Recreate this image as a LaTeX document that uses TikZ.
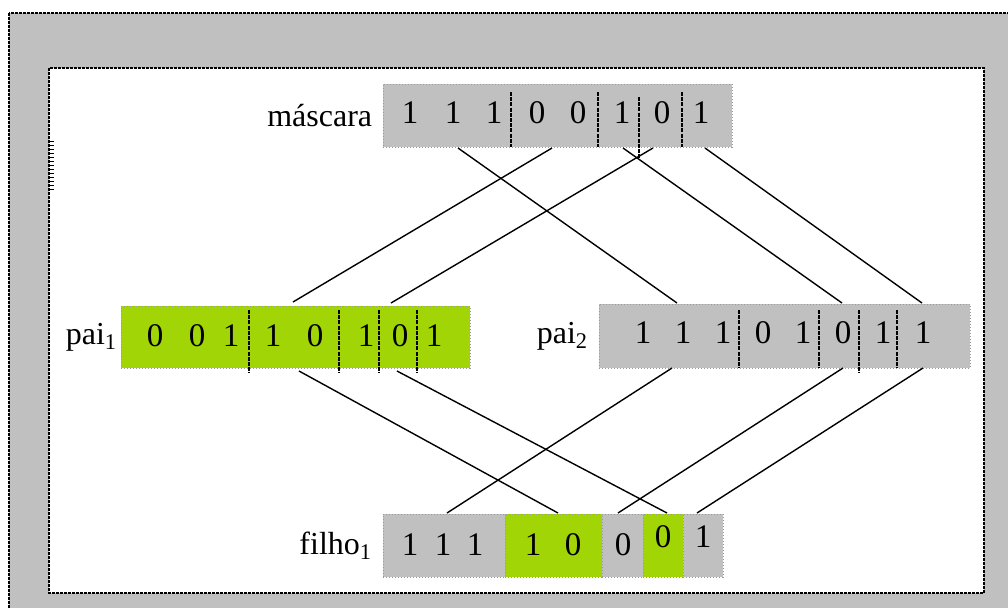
\documentclass[tikz,border=0pt]{standalone}
\usepackage{fontspec}
\setmainfont{Liberation Serif}
\usepackage{tikz}
\usetikzlibrary{positioning}

\definecolor{cinza}{RGB}{192,192,192}
\definecolor{verde}{RGB}{164,218,0}

\begin{document}
\begin{tikzpicture}[
		x=0.5pt, y=-0.5pt,
		font=\fontsize{16}{19}\selectfont,
		frame/.style={draw=black, line width=1pt, dash pattern=on 1.5pt off 0.5pt},
		bitbox/.style={rectangle, draw=gray!80, densely dotted, line width=0.5pt, inner sep=0pt},
		gbox/.style={bitbox, fill=cinza},
		vbox/.style={bitbox, fill=verde!95!gray},
		digit/.style={inner sep=0pt, anchor=base, font=\fontsize{16.5}{19}\selectfont},
		tag/.style={inner sep=0pt},
		cut/.style={dash pattern=on 2pt off 0.6pt, line width=0.7pt},
		wire/.style={line width=0.7pt}
	]
  \useasboundingbox (0,0) rectangle (1008,607);
  \clip (0,0) rectangle (1008,607);
  % moldura
  \filldraw[fill=cinza, frame] (8.5,12.5) rectangle (1040,640);
  \filldraw[fill=white, frame] (49,68) rectangle (984,593);
  \draw[line width=2pt, dash pattern=on 0.5pt off 1.5pt] (52,141) -- (52,193);

  % mascara
  \node (mask) [gbox, minimum width=174.5pt, minimum height=31.5pt] at (557.5,115.5) {};
  \node (mask_lbl) [tag, left=5pt of mask] {máscara};
  \foreach \x/\d [count=\i] in {410/1,453/1,494/1,537/0,578/0,622/1,662/0,701/1}
    \node (m\i) [digit] at (\x,123) {\d};
  \draw[cut] (511,92) -- (511,147) (598,92) -- (598,147) (639,97) -- (639,158) (682,92) -- (682,147);

  % pais
  \node (pai1) [vbox, minimum width=174.5pt, minimum height=31pt] at (295.5,337) {};
  \node (pai1_lbl) [tag, left=1.5pt of pai1] {pai\textsubscript{1}};
  \foreach \x/\d [count=\i] in {155/0,197/0,231/1,273/1,315/0,366/1,400/0,434/1}
    \node (a\i) [digit] at (\x,346) {\d};
  \draw[cut] (249,310) -- (249,373) (339,310) -- (339,373) (379,310) -- (379,373) (417,310) -- (417,373);

  \node (pai2) [gbox, minimum width=185.5pt, minimum height=32pt] at (784.5,336) {};
  \node (pai2_lbl) [tag, left=5pt of pai2] {pai\textsubscript{2}};
  \foreach \x/\d [count=\i] in {643/1,683/1,723/1,763/0,803/1,843/0,883/1,923/1}
    \node (b\i) [digit] at (\x,343) {\d};
  \draw[cut] (739,310) -- (739,368) (819,310) -- (819,368) (859,310) -- (859,373) (897,310) -- (897,368);

  % filho
  \node (f_a) [gbox, minimum width=61pt, minimum height=31.5pt] at (444,545.5) {};
  \node (f_b) [vbox, minimum width=48.5pt, minimum height=31.5pt] at (553.5,545.5) {};
  \node (f_c) [gbox, minimum width=20.5pt, minimum height=31.5pt] at (622.5,545.5) {};
  \node (f_d) [vbox, minimum width=20pt, minimum height=31.5pt] at (663,545.5) {};
  \node (f_e) [gbox, minimum width=20pt, minimum height=31.5pt] at (703,545.5) {};
  \node (filho_lbl) [tag, left=5pt of f_a] {filho\textsubscript{1}};
  \foreach \x/\y/\d [count=\i] in {410/555/1,443/555/1,475/555/1,533/555/1,573/555/0,623/555/0,663/547/0,703/547/1}
    \node (c\i) [digit] at (\x,\y) {\d};

  % pontos de ligacao
  \coordinate (mask_a) at (458,148);
  \coordinate (mask_b) at (552,148);
  \coordinate (mask_c) at (653,148);
  \coordinate (mask_d) at (623,148);
  \coordinate (mask_e) at (705,148);
  \coordinate (pai1_in_b) at (293,302);
  \coordinate (pai1_in_c) at (391,303);
  \coordinate (pai2_in_a) at (677,303);
  \coordinate (pai2_in_d) at (842,303);
  \coordinate (pai2_in_e) at (922,303);
  \coordinate (pai1_out_a) at (299,371);
  \coordinate (pai1_out_b) at (397,371);
  \coordinate (pai2_out_a) at (672,368);
  \coordinate (pai2_out_b) at (843,368);
  \coordinate (pai2_out_c) at (923,368);
  \coordinate (filho_in_a) at (447,513);
  \coordinate (filho_in_b) at (558,513);
  \coordinate (filho_in_c) at (618,513);
  \coordinate (filho_in_d) at (667,513);
  \coordinate (filho_in_e) at (697,513);

  \draw[wire] (mask_a) edge (pai2_in_a);
  \draw[wire] (mask_b) edge (pai1_in_b);
  \draw[wire] (mask_c) edge (pai1_in_c);
  \draw[wire] (mask_d) edge (pai2_in_d);
  \draw[wire] (mask_e) edge (pai2_in_e);
  \draw[wire] (pai1_out_a) edge (filho_in_b);
  \draw[wire] (pai1_out_b) edge (filho_in_d);
  \draw[wire] (pai2_out_a) edge (filho_in_a);
  \draw[wire] (pai2_out_b) edge (filho_in_c);
  \draw[wire] (pai2_out_c) edge (filho_in_e);
\end{tikzpicture}
\end{document}
